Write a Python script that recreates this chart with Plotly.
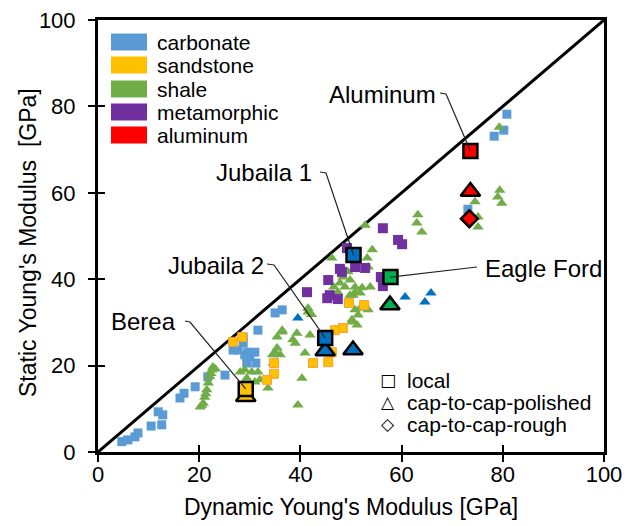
import plotly.graph_objects as go

# ---------------- data (GPa) ----------------
carbonate_x = [4.7, 5.9, 7.3, 7.9, 10.5, 11.9, 12.8, 12.6, 16.2, 17.0, 19.2, 21.7, 25.1,
               26.7, 27.7, 28.7, 28.7, 29.6, 31.0, 29.0, 30.0, 29.4, 31.2, 31.6, 35.0, 36.4,
               73.1, 78.3, 80.2, 80.8]
carbonate_y = [2.4, 2.8, 3.5, 4.4, 6.0, 9.3, 8.6, 6.3, 12.5, 13.6, 15.1, 17.4, 17.8,
               23.6, 23.6, 25.2, 26.6, 23.1, 23.1, 22.5, 22.0, 20.6, 20.6, 28.2, 32.2, 32.9,
               56.2, 73.1, 74.5, 78.2]

carb_tri_x = [39.5, 60.7, 64.6, 65.8]
carb_tri_y = [31.0, 35.9, 34.7, 36.8]

sandstone_x = [26.7, 28.5, 34.8, 34.8, 33.4, 49.6, 52.6, 48.4, 46.8, 46.2, 45.5, 42.5]
sandstone_y = [25.5, 26.6, 20.6, 18.1, 16.7, 34.5, 34.0, 28.7, 28.2, 23.1, 20.8, 20.6]

shale_x = [20.2, 20.8, 21.1, 21.5, 21.8, 22.1, 22.5, 22.7, 23.2, 21.3, 20.5, 22.3,
           28.1, 29.0, 30.4, 31.6, 32.0, 31.0, 29.4, 33.6, 34.6, 35.0, 35.4, 36.4, 36.4, 35.4, 36.0, 34.5,
           39.3, 39.0, 40.9, 41.9, 40.3, 39.5, 41.5, 42.2, 41.5, 38.5,
           50.2, 51.2, 51.4, 51.8, 53.4, 50.4, 51.8, 50.8, 50.2,
           52.8, 54.2, 53.2, 53.4, 46.2, 48.2, 48.4, 49.4, 49.8, 47.8, 48.8, 46.6, 47.4, 50.8, 52.2, 50.8, 49.8, 53.8,
           63.2, 63.0, 64.0, 74.5, 75.1, 75.1, 79.4, 79.0, 79.8, 79.3]
shale_y = [10.4, 11.3, 12.7, 14.4, 16.0, 17.4, 19.0, 19.7, 19.2, 13.5, 10.8, 18.2,
           18.5, 19.0, 18.5, 18.5, 16.7, 16.2, 17.1, 14.8, 20.6, 23.1, 26.6, 28.2, 27.8, 24.1, 22.5, 22.5,
           27.5, 25.2, 22.9, 27.1, 17.1, 10.9, 32.4, 31.8, 33.3, 26.0,
           30.1, 29.4, 31.7, 33.3, 32.9, 36.3, 36.8, 32.9, 30.6,
           52.5, 46.8, 44.9, 42.8, 44.9, 42.1, 40.5, 41.7, 39.8, 39.1, 38.2, 38.2, 37.0, 38.2, 38.0, 37.0, 36.3, 38.2,
           54.9, 53.0, 50.9, 57.9, 54.4, 52.1, 60.6, 59.0, 57.6, 75.2]

metamorphic_x = [56.3, 59.3, 60.1, 49.2, 47.8, 48.2, 50.8, 52.8, 55.9, 56.3, 45.5, 41.3, 45.8, 45.3, 47.4]
metamorphic_y = [51.8, 49.1, 48.1, 47.2, 42.4, 41.7, 42.8, 42.6, 40.5, 38.4, 39.8, 37.0, 36.3, 35.6, 35.4]

# labelled samples: [Aluminum, Jubaila 1, Jubaila 2, Eagle Ford, Berea]
label_names = ["Aluminum", "Jubaila 1", "Jubaila 2", "Eagle Ford", "Berea"]
local_x = [73.6, 50.5, 44.9, 57.8, 29.2]
local_y = [69.7, 45.6, 26.4, 40.5, 14.6]
local_colors = ["#FF0000", "#0070C0", "#0070C0", "#00B050", "#FFC000"]

polished_x = [73.6, 44.9, 50.4, 57.7, 29.2]
polished_y = [60.3, 23.4, 23.6, 34.0, 12.8]
polished_colors = ["#FF0000", "#0070C0", "#0070C0", "#00B050", "#FFC000"]

rough_x = [73.4]
rough_y = [54.0]
rough_colors = ["#FF0000"]

legend_names = ["carbonate", "sandstone", "shale", "metamorphic", "aluminum"]
legend_colors = ["#5B9BD5", "#FFC000", "#70AD47", "#7030A0", "#FF0000"]

marker_symbols = ["\u25A1", "\u25B3", "\u25C7"]
marker_names = ["local", "cap-to-cap-polished", "cap-to-cap-rough"]

ticks = [0, 20, 40, 60, 80, 100]
x_title = "Dynamic Young's Modulus [GPa]"
y_title = "Static Young's Modulus \u00a0[GPa]"
FONT = "Arial, Liberation Sans, sans-serif"

# pixel helpers for layout (plot area 98..604 x, 452..20 y)
def px2x(px):
    return (px - 98) / 5.06

def py2y(py):
    return (452 - py) / 4.32

fig = go.Figure()

# 1:1 line
fig.add_trace(go.Scatter(x=[0, 100], y=[0, 100], mode="lines",
                         line=dict(color="black", width=3), showlegend=False, hoverinfo="skip"))

fig.add_trace(go.Scatter(x=carbonate_x, y=carbonate_y, mode="markers",
                         marker=dict(symbol="square", size=9, color="#5B9BD5", line=dict(width=0)),
                         showlegend=False))
fig.add_trace(go.Scatter(x=shale_x, y=shale_y, mode="markers",
                         marker=dict(symbol="triangle-up", size=10, color="#70AD47", line=dict(width=0)),
                         showlegend=False))
fig.add_trace(go.Scatter(x=sandstone_x, y=sandstone_y, mode="markers",
                         marker=dict(symbol="square", size=9, color="#FFC000",
                                     line=dict(width=1, color="#F4A23A")),
                         showlegend=False))
fig.add_trace(go.Scatter(x=metamorphic_x, y=metamorphic_y, mode="markers",
                         marker=dict(symbol="square", size=10, color="#7030A0", line=dict(width=0)),
                         showlegend=False))
fig.add_trace(go.Scatter(x=carb_tri_x, y=carb_tri_y, mode="markers",
                         marker=dict(symbol="triangle-up", size=10, color="#0070C0", line=dict(width=0)),
                         showlegend=False))

# labelled markers
fig.add_trace(go.Scatter(x=polished_x, y=polished_y, mode="markers",
                         marker=dict(symbol="triangle-up", size=17, color=polished_colors,
                                     line=dict(width=2.5, color="black")),
                         showlegend=False))
fig.add_trace(go.Scatter(x=rough_x, y=rough_y, mode="markers",
                         marker=dict(symbol="diamond", size=13, color=rough_colors,
                                     line=dict(width=2.5, color="black")),
                         showlegend=False))
fig.add_trace(go.Scatter(x=local_x, y=local_y, mode="markers",
                         marker=dict(symbol="square", size=14, color=local_colors,
                                     line=dict(width=2.5, color="black")),
                         showlegend=False))

# overlay trace for inner ticks
fig.add_trace(go.Scatter(x=[None], y=[None], xaxis="x2", yaxis="y2", showlegend=False))

shapes = []
annotations = []

# leader lines: text position (px), anchor, stub points (px) -> marker centre
leaders = [
    (438, 94, "right", [(440, 93), (446, 94)]),
    (314, 172, "right", [(320, 172), (326, 173)]),
    (266, 265, "right", [(267, 264), (274, 265)]),
    (483, 268, "left", [(477, 267)]),
    (178, 321, "right", [(185, 321), (190, 322)]),
]
for i, (tx, ty, anc, stub) in enumerate(leaders):
    pts = [(px2x(a), py2y(b)) for a, b in stub] + [(local_x[i], local_y[i])]
    path = "M " + " L ".join(f"{a:.3f},{b:.3f}" for a, b in pts)
    shapes.append(dict(type="path", path=path, xref="x", yref="y",
                       line=dict(color="#222222", width=1.2), layer="above"))
    annotations.append(dict(x=px2x(tx), y=py2y(ty), xref="x", yref="y", text=label_names[i],
                            showarrow=False, xanchor=anc, yanchor="middle",
                            font=dict(family=FONT, size=24, color="black")))

# top-left colour legend
row_px = [42, 65, 89, 112, 135]
for name, col, rp in zip(legend_names, legend_colors, row_px):
    shapes.append(dict(type="rect", xref="x", yref="y",
                       x0=px2x(111), x1=px2x(147), y0=py2y(rp + 8.5), y1=py2y(rp - 8.5),
                       fillcolor=col, line=dict(width=0), layer="above"))
    annotations.append(dict(x=px2x(155), y=py2y(rp), xref="x", yref="y", text=name,
                            showarrow=False, xanchor="left", yanchor="middle",
                            font=dict(family=FONT, size=21, color="black")))

# bottom-right marker legend
for sym, txt, rp in zip(marker_symbols, marker_names, [380, 402, 424]):
    annotations.append(dict(x=px2x(387.5), y=py2y(rp), xref="x", yref="y", text=sym,
                            showarrow=False, xanchor="center", yanchor="middle",
                            font=dict(family="DejaVu Sans", size=17, color="black")))
    annotations.append(dict(x=px2x(405), y=py2y(rp), xref="x", yref="y", text=txt,
                            showarrow=False, xanchor="left", yanchor="middle",
                            font=dict(family=FONT, size=21, color="black")))

# axis titles
annotations.append(dict(x=(351 - 98) / 506, y=(452 - 507) / 432, xref="paper", yref="paper",
                        text=x_title, showarrow=False, xanchor="center", yanchor="middle",
                        font=dict(family=FONT, size=23, color="black")))
annotations.append(dict(x=(28 - 98) / 506, y=(452 - 243) / 432, xref="paper", yref="paper",
                        text=y_title, showarrow=False, xanchor="center", yanchor="middle",
                        textangle=-90, font=dict(family=FONT, size=23, color="black")))

axis_common = dict(range=[0, 100], tickmode="array", tickvals=ticks, showgrid=False,
                   zeroline=False, tickcolor="black", tickwidth=1.5, ticklen=7,
                   automargin=False)

fig.update_layout(
    width=630, height=526,
    margin=dict(l=98, r=26, t=20, b=74, autoexpand=False),
    paper_bgcolor="white", plot_bgcolor="white",
    font=dict(family=FONT, color="black"),
    xaxis=dict(**axis_common, ticks="outside", showline=True, mirror=True, linecolor="black",
               linewidth=3, tickfont=dict(size=22), ticklabelstandoff=-6),
    yaxis=dict(**axis_common, ticks="outside", showline=True, mirror=True, linecolor="black",
               linewidth=3, tickfont=dict(size=22), ticklabelstandoff=8),
    xaxis2=dict(**axis_common, ticks="inside", overlaying="x", showticklabels=False, showline=False),
    yaxis2=dict(**axis_common, ticks="inside", overlaying="y", showticklabels=False, showline=False),
    shapes=shapes,
    annotations=annotations,
    showlegend=False,
)

fig.write_html("out.html")
